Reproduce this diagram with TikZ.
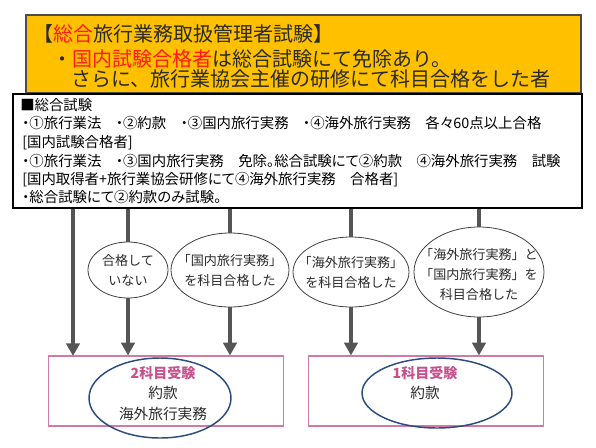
\documentclass[tikz,border=0pt]{standalone}
\usepackage{fontspec}
\newfontfamily\jp{Noto Sans CJK JP}
\newfontfamily\jpp[RawFeature=+palt]{Noto Sans CJK JP}
\usetikzlibrary{arrows.meta,shapes.geometric}
\definecolor{ygold}{HTML}{FFC000}
\definecolor{tred}{HTML}{FF1A1A}
\definecolor{linegray}{HTML}{555555}
\definecolor{pinkbox}{HTML}{D27AA5}
\definecolor{magtext}{HTML}{C8508C}
\definecolor{navy}{HTML}{2B4C7E}
\definecolor{txt}{HTML}{2A2A2A}
\tikzset{
  ybox/.style={draw=black!70, line width=0.8pt, fill=ygold, minimum width=416.25pt, minimum height=58.5pt, inner sep=0pt},
  ytext/.style={anchor=base west, inner sep=0pt, text=txt, font=\jp\fontsize{15pt}{18pt}\selectfont},
  bbox/.style={draw=black, line width=1.9pt, fill=white, minimum width=426.75pt, minimum height=85.5pt, inner sep=0pt},
  btext/.style={anchor=base west, inner sep=0pt, text=black, font=\jpp\fontsize{10.8pt}{12pt}\selectfont},
  oval/.style={ellipse, draw=black!75, line width=0.6pt, fill=white, inner sep=0pt},
  ovaltext/.style={inner sep=0pt, align=center, text=txt, font=\jp\fontsize{9.8pt}{15pt}\selectfont},
  conn/.style={draw=linegray, line width=2.3pt},
  arr/.style={conn, -{Triangle[length=9.5pt,width=10pt]}},
  pbox/.style={draw=pinkbox, line width=0.9pt, inner sep=0pt, minimum width=176.25pt, minimum height=52.5pt},
  bluering/.style={ellipse, draw=navy, line width=1.1pt, inner sep=0pt},
  ptext/.style={inner sep=0pt, text=txt, font=\jp\fontsize{11pt}{13pt}\selectfont},
  mtext/.style={inner sep=0pt, text=magtext, font=\jp\bfseries\fontsize{10.5pt}{13pt}\selectfont}
}
\begin{document}
\begin{tikzpicture}[x=0.75pt,y=-0.75pt]
\useasboundingbox (0,0) rectangle (596,447);
% yellow header
\node[ybox] (yb) at (303.5,54) {};
\node[ytext] (t1) at (33,41) {【\textcolor{tred}{総合}旅行業務取扱管理者試験】};
\node[ytext] (t2) at (52,66) {・\textcolor{tred}{国内試験合格者}は総合試験にて免除あり。};
\node[ytext] (t3) at (71,86) {さらに、旅行業協会主催の研修にて科目合格をした者};
% black box
\node[bbox] (bb) at (297.5,151) {};
\node[btext] (b1) at (20,110) {■総合試験};
\node[btext] (b2) at (22,128) {・①旅行業法　・②約款　・③国内旅行実務　・④海外旅行実務　各々60点以上合格};
\node[btext] (b3) at (22,147) {[国内試験合格者]};
\node[btext] (b4) at (22,166) {・①旅行業法　・③国内旅行実務　免除。総合試験にて②約款　④海外旅行実務　試験};
\node[btext] (b5) at (22,184) {[国内取得者+旅行業協会研修にて④海外旅行実務　合格者]};
\node[btext] (b6) at (22,202) {・総合試験にて②約款のみ試験。};
% pink boxes
\node[pbox] (p1) at (166,391) {};
\node[pbox] (p2) at (426,391) {};
% ovals
\node[oval, minimum width=60pt, minimum height=42pt] (e1) at (128,270) {};
\node[oval, minimum width=88.5pt, minimum height=55.5pt] (e2) at (230,270) {};
\node[oval, minimum width=87pt, minimum height=52.5pt] (e3) at (351,272) {};
\node[oval, minimum width=97.5pt, minimum height=67.5pt] (e4) at (479,272) {};
\node[ovaltext] (l1) at (e1.center) {合格して\\いない};
\node[ovaltext] (l2) at (e2.center) {「国内旅行実務」\\を科目合格した};
\node[ovaltext] (l3) at (e3.center) {「海外旅行実務」\\を科目合格した};
\node[ovaltext] (l4) at ([yshift=-1.5pt]e4.center) {「海外旅行実務」と\\「国内旅行実務」を\\科目合格した};
% arrow targets
\coordinate (a1) at (73,356);
% connectors
\draw[arr] (bb.south -| a1) -- (a1);
\draw[conn] (bb.south -| e1) -- (e1.north);
\draw[arr] (e1.south) -- (e1.south |- p1.north);
\draw[conn] (bb.south -| e2) -- (e2.north);
\draw[arr] (e2.south) -- (e2.south |- p1.north);
\draw[conn] (bb.south -| e3) -- (e3.north);
\draw[arr] (e3.south) -- (e3.south |- p2.north);
\draw[conn] (bb.south -| e4) -- (e4.north);
\draw[arr] (e4.south) -- (e4.south |- p2.north);
% bottom rings and labels
\node[bluering, minimum width=106.5pt, minimum height=60pt] (r1) at (160,398) {};
\node[bluering, minimum width=112.5pt, minimum height=52.5pt] (r2) at (437,393) {};
\node[mtext] (m1) at (163,373) {2科目受験};
\node[ptext] (s1) at (163,393) {約款};
\node[ptext] (s2) at (163,414) {海外旅行実務};
\node[mtext] (m2) at (425,373) {1科目受験};
\node[ptext] (s3) at (425,393) {約款};
\end{tikzpicture}
\end{document}
